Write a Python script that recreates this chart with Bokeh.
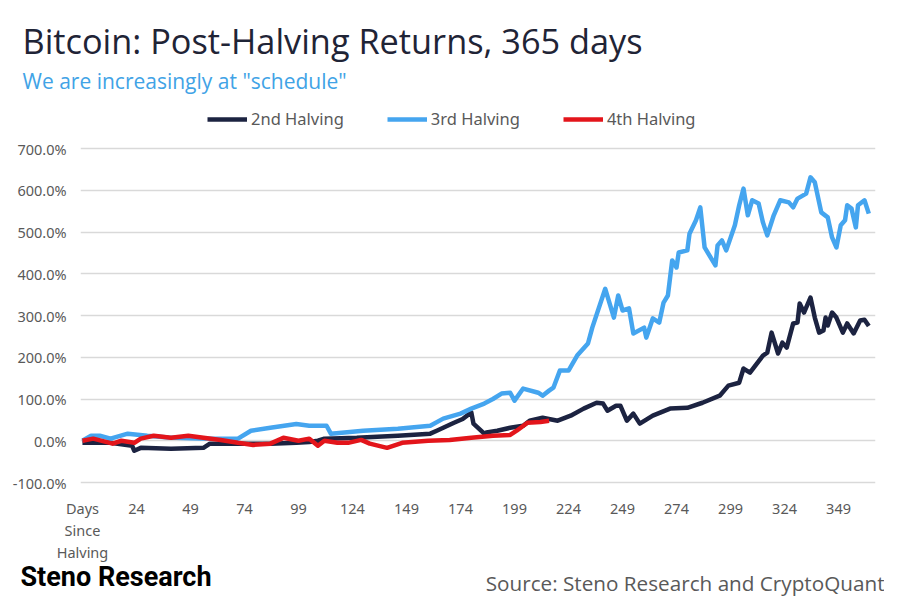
from bokeh.plotting import figure
from bokeh.models import Legend, LegendItem, FixedTicker, Range1d, Title
from bokeh.embed import file_html
from bokeh.resources import INLINE

# ---- data (index = position on the day axis, value = return in %) ----
h2_day = [0, 13, 23, 24, 27, 41, 56, 59, 72, 87, 99, 105, 109, 112, 127, 146, 161, 164, 167, 172,
          176, 180, 181, 186, 187, 192, 198, 204, 207, 213, 220, 226, 232, 238, 241, 243, 247, 249,
          252, 255, 258, 264, 272, 280, 287, 295, 299, 304, 306, 309, 315, 317, 319, 322, 324, 326,
          329, 331, 332, 334, 337, 339, 341, 343, 344, 345, 347, 349, 352, 354, 357, 360, 362, 364]
h2_ret = [-5, -5, -12, -24, -17, -19, -17, -7, -7, -7, -5, -3, 0, 5, 7, 12, 17, 24, 31, 43,
          52, 68, 41, 17, 20, 24, 31, 36, 48, 55, 48, 60, 77, 91, 89, 72, 84, 84,
          48, 65, 41, 60, 77, 79, 91, 108, 132, 139, 173, 163, 204, 211, 259, 209, 235, 223,
          281, 283, 329, 307, 343, 295, 259, 264, 295, 276, 307, 295, 259, 281, 257, 288, 290, 275]

h3_day = [0, 4, 8, 13, 21, 30, 40, 50, 60, 72, 78, 87, 99, 105, 113, 115, 120, 130, 146, 161,
          167, 175, 180, 186, 190, 194, 198, 200, 204, 211, 213, 216, 218, 221, 225, 229, 234, 236,
          242, 246, 248, 250, 253, 255, 260, 261, 264, 267, 269, 271, 273, 275, 276, 280, 281, 284,
          286, 288, 293, 294, 296, 298, 302, 304, 306, 308, 310, 313, 315, 317, 320, 323, 327, 329,
          331, 335, 337, 339, 342, 345, 347, 349, 351, 353, 354, 356, 358, 359, 362, 364]
h3_ret = [0, 12, 12, 5, 17, 12, 8, 6, 5, 5, 24, 31, 40, 36, 36, 17, 19, 24, 29, 36,
          53, 65, 77, 89, 100, 113, 115, 96, 125, 115, 108, 120, 127, 168, 168, 204, 233, 271,
          364, 295, 348, 312, 317, 257, 271, 247, 293, 283, 331, 348, 432, 415, 451, 456, 496, 528,
          559, 463, 420, 468, 480, 456, 516, 564, 604, 540, 576, 568, 523, 492, 540, 576, 571, 559,
          580, 592, 631, 619, 547, 535, 487, 463, 516, 528, 564, 556, 511, 564, 576, 544]

h4_day = [0, 5, 14, 18, 24, 27, 33, 41, 49, 56, 64, 72, 79, 87, 93, 100, 105, 109, 112, 118,
          123, 129, 133, 141, 148, 160, 170, 180, 190, 198, 201, 206, 212, 216]
h4_ret = [0, 5, -7, 0, -5, 5, 12, 7, 12, 7, 2, -5, -10, -7, 7, 0, 5, -12, 0, -5,
          -5, 2, -7, -17, -5, 0, 2, 7, 12, 14, 24, 43, 45, 48]

series_names = ["2nd Halving", "3rd Halving", "4th Halving"]
y_ticks = [-100, 0, 100, 200, 300, 400, 500, 600, 700]
x_ticks = [0, 25, 50, 75, 100, 125, 150, 175, 200, 225, 250, 275, 300, 325, 350]
x_tick_labels = ["Days\nSince\nHalving", "24", "49", "74", "99", "124", "149", "174", "199",
                 "224", "249", "274", "299", "324", "349"]

NAVY = "#1c2341"
BLUE = "#45a5ef"
RED = "#e3151b"
GRAY = "#595959"

p = figure(width=884, height=600, output_backend="svg", toolbar_location=None,
           x_range=Range1d(-0.9, 367.1), y_range=Range1d(-123.95, 826.95),
           min_border_left=80, min_border_right=9, min_border_top=95, min_border_bottom=108)
p.title.text = ""
p.title.visible = False
p.outline_line_color = None

r2 = p.line(h2_day, h2_ret, line_color=NAVY, line_width=4.5, line_join="round")
r3 = p.line(h3_day, h3_ret, line_color=BLUE, line_width=4.5, line_join="round")
r4 = p.line(h4_day, h4_ret, line_color=RED, line_width=4.5, line_join="round")

p.yaxis.ticker = FixedTicker(ticks=y_ticks)
p.yaxis.major_label_overrides = {v: f"{v:.1f}%" for v in y_ticks}
p.xaxis.ticker = FixedTicker(ticks=x_ticks)
p.xaxis.major_label_overrides = dict(zip(x_ticks, x_tick_labels))
for ax in (p.xaxis[0], p.yaxis[0]):
    ax.axis_line_color = None
    ax.major_tick_line_color = None
    ax.minor_tick_line_color = None
    ax.major_tick_out = 0
    ax.major_tick_in = 0
    ax.minor_tick_out = 0
    ax.minor_tick_in = 0
    ax.major_label_text_font = "Noto Sans"
    ax.major_label_text_font_size = "14.5px"
    ax.major_label_text_color = GRAY
p.yaxis.major_label_standoff = 14
p.xaxis.major_label_standoff = 5
p.xaxis.major_label_text_line_height = 1.1
# small invisible spacer below the tick labels, sets the footer line position
p.xaxis.axis_label = "\u00a0"
p.xaxis.axis_label_text_font_size = "6px"
p.xaxis.axis_label_standoff = 3
p.xgrid.grid_line_color = None
p.ygrid.ticker = FixedTicker(ticks=y_ticks)
p.ygrid.grid_line_color = "#d9d9d9"
p.ygrid.grid_line_width = 1.5

legend = Legend(items=[LegendItem(label=series_names[0], renderers=[r2]),
                       LegendItem(label=series_names[1], renderers=[r3]),
                       LegendItem(label=series_names[2], renderers=[r4])],
                location=(127, 362), orientation="horizontal", padding=0, margin=0,
                spacing=43, glyph_width=40, glyph_height=20, label_standoff=4,
                label_text_font="Noto Sans", label_text_font_size="16.5px",
                label_text_color=GRAY, border_line_color=None, background_fill_alpha=0)
p.add_layout(legend)

sub = Title(text='We are increasingly at "schedule"', align="left", offset=-58,
            text_font="Open Sans", text_font_size="21px", text_font_style="normal",
            text_color="#41a3e6", standoff=2)
p.add_layout(sub, "above")
main = Title(text="Bitcoin: Post-Halving Returns, 365 days", align="left", offset=-58,
             text_font="Open Sans", text_font_size="34.3px", text_font_style="normal",
             text_color="#1f2436", standoff=0)
p.add_layout(main, "above")

# footer: source first (nearest the axis), logo after it on the same line
src = Title(text="Source: Steno Research and CryptoQuant", align="right", offset=-9,
            vertical_align="top", text_font="Open Sans", text_font_size="20.7px",
            text_font_style="normal", text_color=GRAY)
try:
    src.standoff = -16
except Exception:
    src.standoff = 0
p.add_layout(src, "below")
logo = Title(text="Steno Research", align="left", offset=-60, vertical_align="top",
             text_font="'Liberation Sans Narrow', Roboto", text_font_size="27px",
             text_font_style="bold", text_color="#000000")
try:
    logo.standoff = -59
except Exception:
    logo.standoff = 0
p.add_layout(logo, "below")

open("out.html", "w").write(file_html(p, INLINE))
